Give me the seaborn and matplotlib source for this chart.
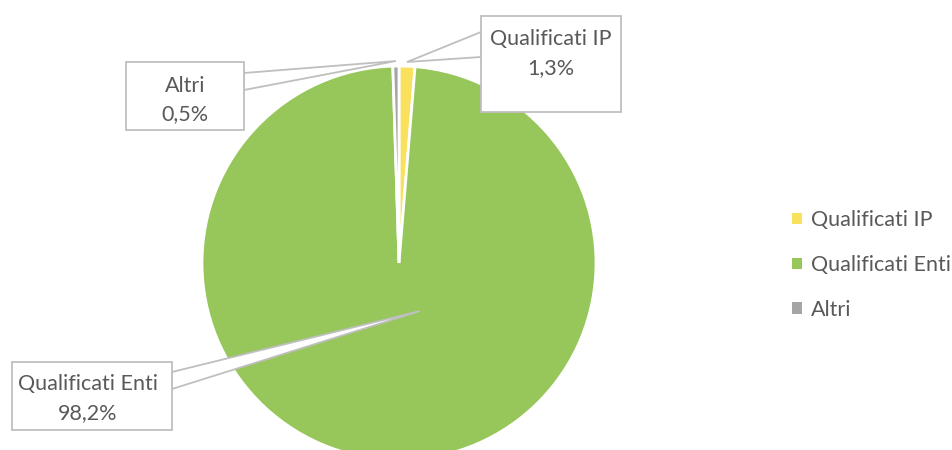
import matplotlib
matplotlib.use("Agg")
import matplotlib.pyplot as plt
import seaborn as sns
from matplotlib.patches import Rectangle, Polygon, Patch

# data
categories = ["Qualificati IP", "Qualificati Enti", "Altri"]
shares = [1.3, 98.2, 0.5]
pct_labels = ["1,3%", "98,2%", "0,5%"]
colors = ["#F9E15E", "#97C65B", "#A5A5A5"]

sns.set_theme(style="white")
plt.rcParams["font.family"] = ["Lato", "DejaVu Sans"]

W, H = 952, 450
fig = plt.figure(figsize=(W / 100, H / 100), dpi=100)

# pie placement in pixels (from top-left)
cx, cy, r = 399, 263, 197
ax = fig.add_axes([(cx - r) / W, (H - cy - r) / H, 2 * r / W, 2 * r / H])
ax.pie(shares, colors=colors, startangle=90, counterclock=False,
       wedgeprops=dict(edgecolor="white", linewidth=2.0))
ax.set_xlim(-1, 1)
ax.set_ylim(-1, 1)
ax.set_axis_off()

def px(x, y):
    return (x / W, 1 - y / H)

line_col = "#BFBFBF"
text_col = "#595959"
fs = 15.5

# callouts: box (l, t, r, b), wedge base on box side (x, y1, y2), tip, text centre x, line ys
callouts = [
    dict(box=(481, 16, 621, 112), base=(481, 32, 57), tip=(407, 62), tx=551, ty=(39, 68), i=0),
    dict(box=(126, 62, 244, 130), base=(244, 73, 90), tip=(396, 61), tx=185, ty=(86, 114), i=2),
    dict(box=(12, 362, 172, 430), base=(172, 372, 389), tip=(420, 311), tx=88, ty=(384, 413), i=1),
]
for c in callouts:
    l, t, rr, b = c["box"]
    bx, y1, y2 = c["base"]
    fig.patches.append(Polygon([px(bx, y1), px(*c["tip"]), px(bx, y2)], closed=True,
                               transform=fig.transFigure, facecolor="white",
                               edgecolor=line_col, linewidth=1.3, zorder=5))
    fig.patches.append(Rectangle(px(l, b), (rr - l) / W, (b - t) / H,
                                 transform=fig.transFigure, facecolor="white",
                                 edgecolor=line_col, linewidth=1.3, zorder=6))
    fig.text(*px(c["tx"], c["ty"][0]), categories[c["i"]], ha="center", va="center",
             fontsize=fs, color=text_col, zorder=7)
    fig.text(*px(c["tx"], c["ty"][1]), pct_labels[c["i"]], ha="center", va="center",
             fontsize=fs, color=text_col, zorder=7)

handles = [Patch(facecolor=col, edgecolor="none") for col in colors]
leg = fig.legend(handles, categories, loc="center left", bbox_to_anchor=px(792, 265),
                 frameon=False, fontsize=fs, handlelength=0.45, handleheight=0.45,
                 handletextpad=0.45, labelspacing=1.15, labelcolor=text_col,
                 borderpad=0, borderaxespad=0)

fig.savefig("out.png", dpi=100)
